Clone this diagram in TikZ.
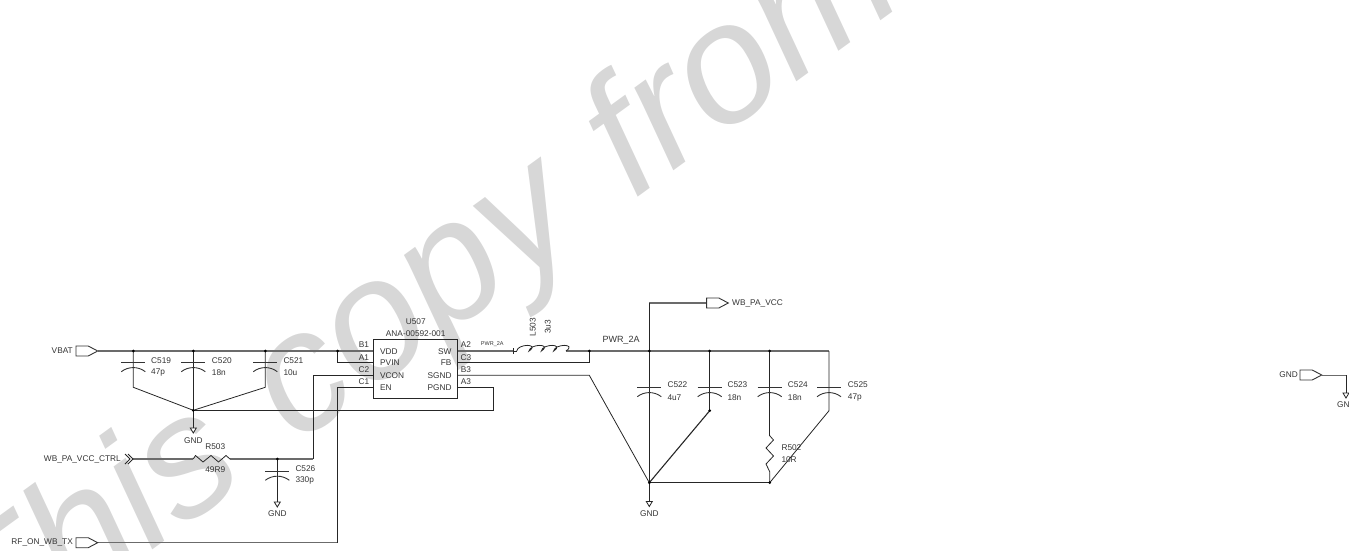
\documentclass[tikz,border=0pt]{standalone}
\usepackage{fontspec}
\setmainfont{Liberation Sans}
\newfontfamily\wmfont[WordSpace=1.22]{Liberation Sans}
\definecolor{ink}{HTML}{333333}
\definecolor{wm}{HTML}{D7D7D7}
\tikzset{
  wire/.style={line width=0.8pt,draw=black!85},
  bus/.style={line width=1.5pt,draw=black!58},
  lbl/.style={inner sep=0pt,text=ink,font=\fontsize{8.3}{9}\selectfont},
  lblL/.style={lbl,anchor=west},
  lblR/.style={lbl,anchor=east},
  jn/.style={circle,fill=black,draw=none,inner sep=0pt,minimum size=3pt},
  capsym/.pic={
    \draw[line width=1pt,draw=black!80] (-12,0)--(12,0);
    \draw[line width=0.9pt,draw=black!80] (-12,9) .. controls (-5,3.5) and (5,3.5) .. (12,9);
  },
  gndsym/.pic={\draw[line width=0.8pt,draw=black!85,fill=white] (-3,0)--(3,0)--(0,5)--cycle;},
  portsym/.pic={\draw[line width=0.9pt,draw=black!80,fill=white] (-21.7,-5)--(-9.5,-5)--(0,0)--(-9.5,5)--(-21.7,5)--cycle;},
}
\begin{document}
\begin{tikzpicture}[x=1pt,y=-1pt]
\useasboundingbox (0,0) rectangle (1349,551);
\begin{scope}
\clip (0,0) rectangle (1349,551);
\node[rotate=36,anchor=base west,inner sep=0pt,text=wm,font=\fontsize{170}{170}\wmfont\itshape] (wmark) at (-10,668) {This copy from};
\end{scope}

% named points
\foreach \n/\x/\y in {vbat/97.7/351,j1/133.3/351,j2/193.3/351,j3/265.3/351,j4/337.7/351,
  hub/193.3/410.3,c1b/133.3/387.3,c3b/265.3/387.3,pg1/493.3/410.3,pg2/493.3/387.7,
  pv/337.7/362.7,vc1/313.3/375.3,vc2/313.3/459,en1/337.7/387.7,en2/337.7/542.7,rf/97.7/542.7,
  ctl/133/459,r3a/193.3/459,r3b/230/459,j5/277.3/459,g1/193.3/428,g2/277.3/502,g3/649.3/501.5,
  t1/513.3/351,l1a/516.7/351,l1b/566/351,j6/589.3/351,fb/589.3/362.7,sg/589.3/375.3,
  j7/649.3/351,j8/709.7/351,j9/769.7/351,e1/829/351,hub2/649.3/482.7,b23/709.7/410.7,b25/829/410.7,
  r2a/769.7/435.7,r2b/769.7/471.7,hub3/769.7/482.7,up/649.3/303,pa/728.3/303,
  pgnd/1321.7/375,cg/1346/375,g4/1346/393,
  pVDD/373.3/351,pPV/373.3/362.7,pVC/373.3/375.3,pEN/373.3/387.7,
  pSW/457.3/351,pFB/457.3/362.7,pSG/457.3/375.3,pPG/457.3/387.7}
  {\coordinate (\n) at (\x,\y);}

% connectors
\draw[bus] (vbat)--(pVDD);
\draw[bus] (pSW)--(t1);
\draw[wire] (t1)++(0,-3)--++(0,6);
\draw[wire] (t1)--(l1a);
\draw[bus] (l1b)--(e1);
\draw[bus] (up)--(pa);
\draw[bus] (ctl)--(r3a);
\draw[bus] (r3b)--(vc2);
\draw[bus] (rf)--(en2);
\draw[wire] (j4)--(pv)--(pPV);
\draw[wire] (pVC)--(vc1)--(vc2);
\draw[wire] (pEN)--(en1)--(en2);
\draw[wire] (hub)--(pg1)--(pg2)--(pPG);
\draw[wire] (pFB)--(fb)--(j6);
\draw[wire] (pSG)--(sg)--(hub2);
\draw[wire] (j7)--(up);
\draw[wire] (cg)--(g4);
\draw[bus,line width=1pt] (pgnd)--(cg);

% capacitor branches
\draw[wire] (j1)--(c1b)--(hub);
\draw[wire] (j2)--(g1);
\draw[wire] (j3)--(c3b)--(hub);
\pic at (133.3,362.7) {capsym};
\pic at (193.3,362.7) {capsym};
\pic at (265.3,362.7) {capsym};
\draw[wire] (j5)--(g2);
\pic at (277.3,471.3) {capsym};
\draw[wire] (j7)--(g3);
\draw[wire] (j8)--(b23);
\draw[line width=1.1pt,draw=black!85] (b23)--(hub2);
\draw[wire] (j9)--(r2a);
\draw[wire] (e1)--(b25)--(hub3);
\draw[line width=1.1pt,draw=black!85] (hub2)--(hub3);
\pic at (649.3,387.7) {capsym};
\pic at (709.7,387.7) {capsym};
\pic at (769.7,387.7) {capsym};
\pic at (829,387.7) {capsym};

% resistors and inductor
\draw[wire,line join=round] (r3a)--(195.5,455.5)--(203,462)--(211,455.5)--(218.5,462)--(226,455.5)--(r3b);
\draw[wire,line join=round] (r2a)--(773.5,440)--(766,448)--(773.5,456)--(766,464)--(r2b)--(hub3);
\draw[wire] (l1a)
  .. controls +(1,-7.5) and +(11.3,-7.5) .. ++(12.32,0)
  .. controls +(1,-7.5) and +(11.3,-7.5) .. ++(12.32,0)
  .. controls +(1,-7.5) and +(11.3,-7.5) .. ++(12.32,0)
  .. controls +(1,-7.5) and +(11.3,-7.5) .. ++(12.32,0);

% ground symbols
\pic at (g1) {gndsym};
\pic at (g2) {gndsym};
\pic at (g3) {gndsym};
\pic at (g4) {gndsym};

% ports
\pic at (vbat) {portsym};
\pic at (rf) {portsym};
\pic at (pa) {portsym};
\pic at (pgnd) {portsym};
\draw[wire] (125,454)--(130,459)--(125,464) (128,454)--(133,459)--(128,464);

% junctions
\foreach \p in {j1,j2,j3,j4,j5,j6,j7,j8,j9,hub,hub2,hub3,b23}
  \node[jn] at (\p) {};

% IC
\node[draw=black!85,line width=1pt,fill=none,minimum width=84pt,minimum height=59.4pt,inner sep=0pt] (u507) at (415.3,369) {};
\node[lbl] (t1a) at (415.7,322) {U507};
\node[lbl] (t1b) at (415.7,333.3) {ANA-00592-001};
\foreach \n/\y/\a/\b/\c/\d/\yy in {a/351.3/VDD/SW/B1/A2/344.7,b/363/PVIN/FB/A1/C3/357.3,c/375.3/VCON/SGND/C2/B3/370,d/388/EN/PGND/C1/A3/381.3}{
  \node[lblL] (il\n) at (380,\y) {\a};
  \node[lblR] (ir\n) at (451.7,\y) {\b};
  \node[lbl] (ol\n) at (364,\yy) {\c};
  \node[lbl] (or\n) at (466,\yy) {\d};
}

% labels
\node[lblR] (lvbat) at (73,351) {VBAT};
\node[lblR] (lrf) at (73,542.7) {RF\_ON\_WB\_TX};
\node[lblR] (lctl) at (121,459) {WB\_PA\_VCC\_CTRL};
\node[lblL] (lpa) at (732,303) {WB\_PA\_VCC};
\node[lblR] (lg) at (1298,375) {GND};
\node[lblL] (lgn) at (1337,405) {GN};
\node[lbl] (g1t) at (193.3,441) {GND};
\node[lbl] (g2t) at (277.3,514) {GND};
\node[lbl] (g3t) at (649.3,514) {GND};
\foreach \n/\x/\y/\a/\b/\d in {c519/151/361/C519/47p/11.3,c520/211.7/361/C520/18n/11.3,c521/283.3/361/C521/10u/11.3,
   c526/295.3/468.3/C526/330p/11.7,c522/667.3/384.3/C522/4u7/13,c523/727.3/384.3/C523/18n/13,c524/787.7/384.3/C524/18n/13,c525/847.7/384.3/C525/47p/13}{
  \node[lblL] (\n) at (\x,\y) {\a};
  \node[lblL] (\n v) at (\x,\y+\d) {\b};
}
\node[lbl] (r503) at (215.3,447) {R503};
\node[lbl] (r503v) at (215.3,469.3) {49R9};
\node[lblL] (r502) at (781.3,447.3) {R502};
\node[lblL] (r502v) at (781.3,459.3) {10R};
\node[lbl,rotate=90] (l503) at (532.7,327) {L503};
\node[lbl,rotate=90] (l503v) at (547.7,327) {3u3};
\node[lbl,font=\fontsize{5.5}{6}\selectfont] (pwrs) at (492.3,344) {PWR\_2A};
\node[lbl,font=\fontsize{9}{10}\selectfont] (pwrb) at (621,340) {PWR\_2A};
\end{tikzpicture}
\end{document}
